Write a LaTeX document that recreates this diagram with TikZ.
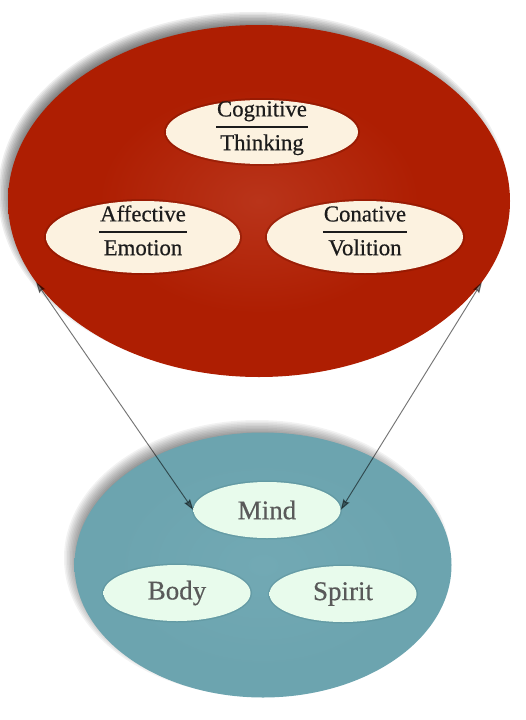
\documentclass[tikz,border=0pt]{standalone}
\usepackage{fontspec}
\setmainfont{Liberation Serif}
\newfontfamily\labelfont{Liberation Serif}[FakeBold=0.5]
\usepackage{tikz}
\usetikzlibrary{shapes.geometric}
\usetikzlibrary{arrows.meta}
\usetikzlibrary{backgrounds}

\definecolor{redmain}{HTML}{AE1E02}
\definecolor{redlight}{HTML}{B9341A}
\definecolor{redrim}{HTML}{801400}
\definecolor{cream}{HTML}{FCF2E0}
\definecolor{creamedge}{HTML}{F2E0C8}
\definecolor{creamrim}{HTML}{C9A080}
\definecolor{bluemain}{HTML}{6CA4AF}
\definecolor{bluelight}{HTML}{72A9B4}
\definecolor{bluerim}{HTML}{52878F}
\definecolor{mint}{HTML}{E8FBEC}
\definecolor{mintedge}{HTML}{DDF0E2}
\definecolor{mintrim}{HTML}{A9C8C0}
\definecolor{labeldark}{HTML}{1C1C1C}
\definecolor{labelgray}{HTML}{595959}

\pgfdeclareradialshading{redshade}{\pgfpoint{0bp}{0bp}}{color(0bp)=(redlight); color(16bp)=(redmain); color(46bp)=(redmain); color(50bp)=(redrim)}
\pgfdeclareradialshading{blueshade}{\pgfpoint{0bp}{0bp}}{color(0bp)=(bluelight); color(20bp)=(bluemain); color(46bp)=(bluemain); color(50bp)=(bluerim)}
\pgfdeclareradialshading{creamshade}{\pgfpoint{0bp}{0bp}}{color(0bp)=(cream); color(40bp)=(cream); color(47bp)=(creamedge); color(50bp)=(creamrim)}
\pgfdeclareradialshading{mintshade}{\pgfpoint{0bp}{0bp}}{color(0bp)=(mint); color(40bp)=(mint); color(47bp)=(mintedge); color(50bp)=(mintrim)}

\newcommand{\twoword}[2]{\smash{\renewcommand{\arraystretch}{1.2}\setlength{\arrayrulewidth}{1.4pt}\begin{tabular}{@{\hspace{1pt}}c@{\hspace{1pt}}}#1\\\hline #2\end{tabular}}}

\begin{document}
\begin{tikzpicture}[x=1pt, y=-1pt,
	bigoval/.style={ellipse, inner sep=0pt},
	facet/.style={ellipse, inner sep=0pt, shading=creamshade, text=labeldark, font=\labelfont\fontsize{22.8}{27}\selectfont, preaction={draw=redrim, draw opacity=.45, line width=4pt}},
	part/.style={ellipse, inner sep=0pt, shading=mintshade, text=labelgray, font=\labelfont\fontsize{27}{32}\selectfont, minimum width=147pt, minimum height=56pt, preaction={draw=bluerim, draw opacity=.35, line width=3pt}},
	link/.style={{Stealth[length=11pt,width=7pt,inset=1.5pt]}-{Stealth[length=11pt,width=7pt,inset=1.5pt]}, line width=1pt, draw=black, fill=black, opacity=.47}]

	\useasboundingbox (0,0) rectangle (525,720);

	% psyche: thinking, feeling, willing
	\node [bigoval, shading=redshade, minimum width=502pt, minimum height=352pt] at (259,201) (psyche){};
	\node [facet, minimum width=192pt, minimum height=64pt] at (262,132) (cognitive){\twoword{Cognitive}{Thinking}};
	\node [facet, minimum width=194pt, minimum height=72pt] at (143,237) (affective){\twoword{Affective}{Emotion}};
	\node [facet, minimum width=196pt, minimum height=72pt] at (365,237) (conative){\twoword{Conative}{Volition}};

	% person: body, mind, spirit
	\node [bigoval, shading=blueshade, minimum width=377pt, minimum height=265pt] at (263,565) (person){};
	\node [part] at (267,510) (mind){Mind};
	\node [part] at (177,593) (body){Body};
	\node [part] at (343,594) (spirit){Spirit};

	% soft shadows up and to the left
	\begin{scope}[on background layer]
		\foreach \d in {0,1.5,...,15}
		{
			\fill [black, opacity=.065] ([shift={(-6,-8)}]psyche.center) ellipse ({240+\d} and {166+\d});
			\fill [black, opacity=.05] ([shift={(-6,-7)}]person.center) ellipse ({178+\d} and {123+\d});
		}
	\end{scope}

	\draw [link] (psyche.200) -- (mind.west);
	\draw [link] (psyche.340) -- (mind.east);

\end{tikzpicture}
\end{document}
